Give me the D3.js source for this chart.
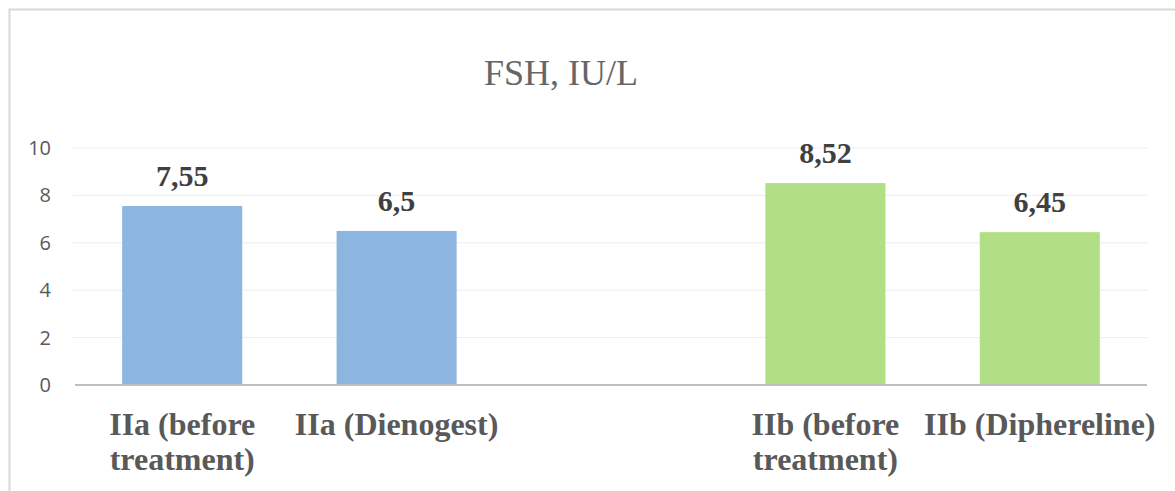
<!DOCTYPE html>
<html>
<head>
<meta charset="utf-8">
<script src="https://cdn.jsdelivr.net/npm/d3@7"></script>
<style>
  html, body { margin: 0; padding: 0; background: #fff; }
  svg { display: block; }
</style>
</head>
<body>
<svg id="chart" width="1175" height="491"></svg>
<script>
const title = "FSH, IU/L";
const categories = ["IIa (before treatment)", "IIa (Dienogest)", "", "IIb (before treatment)", "IIb (Diphereline)"];
const values = [7.55, 6.5, null, 8.52, 6.45];
const valueLabels = ["7,55", "6,5", "", "8,52", "6,45"];
const groups = ["IIa", "IIa", "", "IIb", "IIb"];
const yTicks = [0, 2, 4, 6, 8, 10];
const groupColors = { IIa: "#8cb5e0", IIb: "#b2df86" };

const svg = d3.select("#chart");
const W = 1175, H = 491;
const margin = { left: 75, right: 28, top: 148, bottom: 106 };
const plotW = W - margin.left - margin.right;
const plotH = H - margin.top - margin.bottom;

// chart border
svg.append("rect")
  .attr("x", 9.5).attr("y", 9.5)
  .attr("width", W + 20).attr("height", H + 20)
  .attr("fill", "#fff").attr("stroke", "#d9d9d9").attr("stroke-width", 2);

const g = svg.append("g").attr("transform", `translate(${margin.left},${margin.top})`);

const x = d3.scaleBand().domain(d3.range(categories.length)).range([0, plotW]).paddingInner(0.44).paddingOuter(0.22);
const y = d3.scaleLinear().domain([0, 10]).range([plotH, 0]);

// gridlines
g.append("g").selectAll("line").data(yTicks.filter(d => d !== 0)).join("line")
  .attr("x1", -2).attr("x2", plotW)
  .attr("y1", d => y(d)).attr("y2", d => y(d))
  .attr("stroke", "#ececec").attr("stroke-width", 1);

// y axis labels
const yAxis = d3.axisLeft(y).tickValues(yTicks).tickSize(0).tickPadding(24).tickFormat(d3.format("d"));
const ya = g.append("g").call(yAxis);
ya.select(".domain").remove();
ya.selectAll("text")
  .attr("font-family", "'Open Sans', 'Liberation Sans', sans-serif")
  .attr("font-size", 20).attr("fill", "#595959");

// bars
const idx = d3.range(categories.length).filter(i => values[i] != null);
g.append("g").selectAll("rect").data(idx).join("rect")
  .attr("x", i => x(i)).attr("width", x.bandwidth())
  .attr("y", i => y(values[i])).attr("height", i => y(0) - y(values[i]))
  .attr("fill", i => groupColors[groups[i]]);

// value labels
g.append("g").selectAll("text").data(idx).join("text")
  .attr("x", i => x(i) + x.bandwidth() / 2)
  .attr("y", i => y(values[i]) - 20)
  .attr("text-anchor", "middle")
  .attr("font-family", "'Liberation Serif', 'Times New Roman', serif")
  .attr("font-weight", "bold").attr("font-size", 30).attr("fill", "#404040")
  .text(i => valueLabels[i]);

// x axis baseline
g.append("line")
  .attr("x1", 0).attr("x2", plotW)
  .attr("y1", y(0)).attr("y2", y(0))
  .attr("stroke", "#bfbfbf").attr("stroke-width", 2);

// category labels (wrapped)
const xAxis = d3.axisBottom(x).tickSize(0).tickFormat(i => categories[i]);
const xa = g.append("g").attr("transform", `translate(0,${plotH})`).call(xAxis);
xa.select(".domain").remove();
xa.selectAll("text")
  .attr("font-family", "'Liberation Serif', 'Times New Roman', serif")
  .attr("font-weight", "bold").attr("font-size", 32).attr("fill", "#595959")
  .attr("y", 50).attr("dy", 0)
  .each(function(i) {
    const t = d3.select(this);
    const words = categories[i].split(" ");
    t.text(null);
    const maxW = 250;
    let line = [];
    let lineNo = 0;
    let tspan = t.append("tspan").attr("x", 0).attr("y", 50);
    for (const w of words) {
      line.push(w);
      tspan.text(line.join(" "));
      if (tspan.node().getComputedTextLength() > maxW && line.length > 1) {
        line.pop();
        tspan.text(line.join(" "));
        line = [w];
        lineNo++;
        tspan = t.append("tspan").attr("x", 0).attr("y", 50 + lineNo * 35).text(w);
      }
    }
  });

// title
svg.append("text")
  .attr("x", 561).attr("y", 85)
  .attr("text-anchor", "middle")
  .attr("font-family", "'Liberation Serif', 'Times New Roman', serif")
  .attr("font-size", 36).attr("fill", "#666666")
  .text(title);
</script>
</body>
</html>
